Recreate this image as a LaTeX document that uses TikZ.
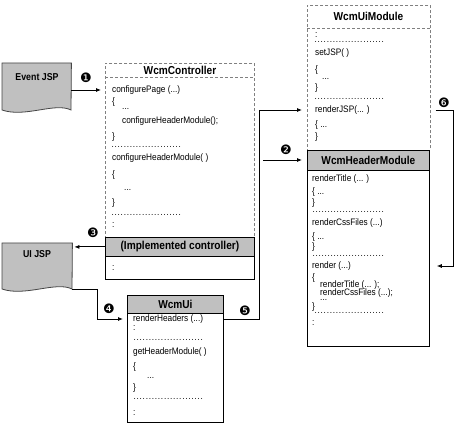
\documentclass[tikz,border=0pt]{standalone}
\usepackage{fontspec}
\setmainfont{Liberation Sans}[FakeStretch=0.88]
\newfontfamily\dingfont{DejaVu Sans}
\usetikzlibrary{arrows.meta}
\definecolor{hdr}{RGB}{192,192,192}
\definecolor{dashc}{RGB}{128,128,128}
\definecolor{docb}{RGB}{70,70,70}
\newcommand\mydots[1]{\hbox to #1{\xleaders\hbox to 3pt{\hss.\hss}\hfill}}
\tikzset{
  code/.style={font=\fontsize{9.4}{10}\selectfont, anchor=west, inner sep=0pt, text height=6pt, text depth=1pt},
  dotsty/.style={code, text height=1pt, text depth=0pt},
  ttl/.style={font=\bfseries\fontsize{11.5}{12}\selectfont, inner sep=0pt},
  dbox/.style={draw=dashc, dash pattern=on 3pt off 2pt, line width=0.7pt, anchor=north west, inner sep=0pt},
  sbox/.style={draw=black, line width=0.8pt, anchor=north west, inner sep=0pt},
  hbox/.style={sbox, fill=hdr, font=\bfseries\fontsize{11.5}{12}\selectfont},
  docshape/.style={draw=docb, fill=hdr, line width=0.8pt},
  doclbl/.style={font=\bfseries\fontsize{10}{11}\selectfont, inner sep=0pt},
  num/.style={font=\dingfont\fontsize{13}{13}\selectfont, inner sep=0pt},
  arr/.style={draw=black, line width=0.8pt, -{Latex[length=5pt,width=4pt]}}
}
\begin{document}
\begin{tikzpicture}[x=1pt,y=-1pt]
\useasboundingbox (0,0) rectangle (461,425);

% ---------- Event JSP ----------
\node[minimum width=69pt, minimum height=47pt, anchor=north west, inner sep=0pt] (ev) at (2,63) {};
\draw[docshape] (ev.north west) -- (ev.north east) -- (71,110) .. controls (55,102) and (25,118) .. (2,110) -- cycle;
\node[doclbl] (evt) at (37,77) {Event JSP};

% ---------- UI JSP ----------
\node[minimum width=70pt, minimum height=46pt, anchor=north west, inner sep=0pt] (uj) at (2,243) {};
\draw[docshape] (uj.north west) -- (uj.north east) -- (72,289) .. controls (56,281) and (25,297) .. (2,289) -- cycle;
\node[doclbl] (ujt) at (37,254) {UI JSP};

% ---------- WcmController ----------
\node[dbox, minimum width=149pt, minimum height=174pt] (ctrl) at (105,63) {};
\draw[draw=dashc, dash pattern=on 3pt off 2pt, line width=0.7pt] (ctrl.west |- 0,77) -- (ctrl.east |- 0,77);
\node[ttl] (ctrlt) at (180,70) {WcmController};
\node[code] (c1) at (112,90) {configurePage (...)};
\node[code] (c2) at (112,102) {\{};
\node[dotsty] (c3) at (122,109.5) {...};
\node[code] (c4) at (122,121) {configureHeaderModule();};
\node[code] (c5) at (112,137) {\}};
\node[dotsty] (c6) at (111,147.5) {\mydots{70pt}};
\node[code] (c7) at (112,158) {configureHeaderModule( )};
\node[code] (c8) at (112,175) {\{};
\node[dotsty] (c9) at (124,190.5) {...};
\node[code] (c10) at (112,203) {\}};
\node[dotsty] (c11) at (111,214.5) {\mydots{70pt}};
\node[code] (c12) at (112,225) {:};

\node[hbox, minimum width=149pt, minimum height=19pt] (implh) at (105,237) {(Implemented controller)};
\node[sbox, minimum width=149pt, minimum height=23pt] (implb) at (105,256) {};
\node[code] (i1) at (112,268) {:};

% ---------- WcmUiModule ----------
\node[dbox, minimum width=123pt, minimum height=145pt] (uim) at (307,5) {};
\draw[draw=dashc, dash pattern=on 3pt off 2pt, line width=0.7pt] (uim.west |- 0,28) -- (uim.east |- 0,28);
\node[ttl] (uimt) at (368.5,16) {WcmUiModule};
\node[code] (m1) at (315,35) {:};
\node[dotsty] (m2) at (314,42.5) {\mydots{70pt}};
\node[code] (m3) at (315,53) {setJSP( )};
\node[code] (m4) at (315,70) {\{};
\node[dotsty] (m5) at (322,79.5) {...};
\node[code] (m6) at (315,88) {\}};
\node[dotsty] (m7) at (314,99.5) {\mydots{70pt}};
\node[code] (rj) at (315,110) {renderJSP(... )};
\node[code] (m9) at (315,125) {\{ ...};
\node[code] (m10) at (315,137) {\}};

% ---------- WcmHeaderModule ----------
\node[hbox, minimum width=122pt, minimum height=20pt] (hmt) at (307,150) {WcmHeaderModule};
\node[sbox, minimum width=122pt, minimum height=176pt] (hm) at (307,170) {};
\node[code] (h1) at (312,179) {renderTitle (... )};
\node[code] (h2) at (312,192) {\{ ...};
\node[code] (h3) at (312,203) {\}};
\node[dotsty] (h4) at (312,212) {\mydots{72pt}};
\node[code] (h5) at (312,223) {renderCssFiles (...)};
\node[code] (h6) at (312,237) {\{ ...};
\node[code] (h7) at (312,247) {\}};
\node[dotsty] (h8) at (312,255.5) {\mydots{72pt}};
\node[code] (rnd) at (312,266) {render (...)};
\node[code] (h10) at (312,278) {\{};
\node[code] (h11) at (320,285) {renderTitle (... );};
\node[code] (h12) at (320,293) {renderCssFiles (...);};
\node[dotsty] (h13) at (320,299.5) {...};
\node[code] (h14) at (312,307) {\}};
\node[dotsty] (h15) at (314,312.5) {\mydots{70pt}};
\node[code] (h16) at (312,323) {:};

% ---------- WcmUi ----------
\node[hbox, minimum width=96pt, minimum height=18pt] (uit) at (127,295) {WcmUi};
\node[sbox, minimum width=96pt, minimum height=109pt] (ui) at (127,313) {};
\node[code] (r1) at (133,319) {renderHeaders (...)};
\node[code] (u2) at (133,328) {:};
\node[dotsty] (u3) at (133,339.5) {\mydots{70pt}};
\node[code] (u4) at (133,352) {getHeaderModule( )};
\node[code] (u5) at (133,367) {\{};
\node[dotsty] (u6) at (147,377.5) {...};
\node[code] (u7) at (133,388) {\}};
\node[dotsty] (u8) at (133,398.5) {\mydots{70pt}};
\node[code] (u9) at (133,413) {:};

% ---------- connectors ----------
\coordinate (s2) at (263,160);
\draw[arr, shorten >=4pt] (ev.east |- c1) -- (ctrl.west |- c1);
\draw[arr, shorten >=5pt] (s2) -- (hmt.west |- s2);
\draw[arr, shorten >=2pt] (implh.west) -- (uj.east |- implh.west);
\draw[arr, shorten >=4pt] (uj.south east) -- ++(25,0) |- (ui.west |- r1);
\draw[arr, shorten >=5pt] (ui.east |- r1) -- ++(36,0) |- (uim.west |- rj);
\draw[arr, shorten <=5pt, shorten >=7pt] (uim.east |- rj) -- ++(23,0) |- (hm.east |- rnd);

% ---------- numbers ----------
\node[num] (n1) at (86,78) {❶};
\node[num] (n2) at (286,150) {❷};
\node[num] (n3) at (93,233) {❸};
\node[num] (n4) at (109,309) {❹};
\node[num] (n5) at (245,311) {❺};
\node[num] (n6) at (444,103) {❻};
\end{tikzpicture}
\end{document}
